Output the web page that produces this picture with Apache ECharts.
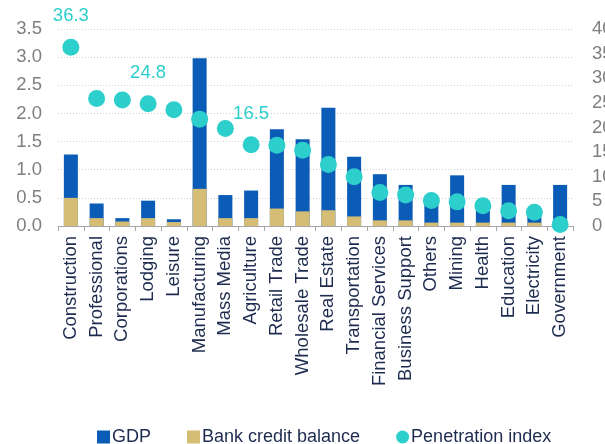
<!DOCTYPE html>
<html>
<head>
<meta charset="utf-8">
<script src="https://cdn.jsdelivr.net/npm/echarts@6/dist/echarts.min.js"></script>
<style>
  html, body { margin: 0; padding: 0; background: #fff; }
  #chart { width: 605px; height: 444px; }
</style>
</head>
<body>
<div id="chart"></div>
<script>
// Sectors along the x axis
const sectors = ['Construction', 'Professional', 'Corporations', 'Lodging', 'Leisure',
  'Manufacturing', 'Mass Media', 'Agriculture', 'Retail Trade', 'Wholesale Trade',
  'Real Estate', 'Transportation', 'Financial Services', 'Business Support', 'Others',
  'Mining', 'Health', 'Education', 'Electricity', 'Government'];

// Share of GDP (left axis)
const gdp = [1.27, 0.40, 0.14, 0.45, 0.12, 2.98, 0.55, 0.63, 1.72, 1.54,
  2.10, 1.23, 0.92, 0.73, 0.50, 0.90, 0.40, 0.73, 0.25, 0.73];

// Share of bank credit balance (left axis)
const credit = [0.50, 0.14, 0.08, 0.14, 0.07, 0.66, 0.14, 0.14, 0.31, 0.26,
  0.28, 0.17, 0.10, 0.10, 0.06, 0.06, 0.06, 0.06, 0.06, 0.01];

// Penetration index (right axis)
const penetration = [36.3, 25.9, 25.6, 24.8, 23.6, 21.7, 19.8, 16.5, 16.4, 15.4,
  12.5, 10.0, 6.8, 6.3, 5.2, 4.9, 4.1, 3.1, 2.8, 0.3];

// Sectors whose penetration value is printed above the dot
const labelledSectors = ['Construction', 'Lodging', 'Agriculture'];

const leftTicks = { min: 0, max: 3.5, interval: 0.5 };
const rightTicks = { min: 0, max: 40, interval: 5 };

const chart = echarts.init(document.getElementById('chart'), null, { renderer: 'canvas' });

const font = 'Liberation Sans, Arial, sans-serif';

chart.setOption({
  animation: false,
  textStyle: { fontFamily: font },
  grid: {
    left: 58, right: 32, top: 29, bottom: 218,
    containLabel: false,
    outerBoundsMode: 'none'
  },
  legend: {
    top: 423,
    left: 92,
    itemGap: 36,
    itemWidth: 13,
    itemHeight: 13,
    textStyle: { color: '#1d2b4f', fontSize: 18, fontFamily: font, padding: [0, 0, 0, -3] },
    data: [
      { name: 'GDP', icon: 'rect' },
      { name: 'Bank credit balance', icon: 'rect' },
      { name: 'Penetration index', icon: 'circle' }
    ]
  },
  xAxis: {
    type: 'category',
    data: sectors,
    axisLine: { lineStyle: { color: '#a6a6a6', width: 1 } },
    axisTick: { show: true, length: 5, lineStyle: { color: '#a6a6a6' } },
    axisLabel: {
      rotate: 90,
      interval: 0,
      margin: 10,
      color: '#1d2b4f',
      fontSize: 18.5,
      fontFamily: font
    }
  },
  yAxis: [
    {
      type: 'value',
      min: leftTicks.min, max: leftTicks.max, interval: leftTicks.interval,
      axisLine: { show: false },
      axisTick: { show: false },
      axisLabel: {
        color: '#7f7f7f', fontSize: 18.5, fontFamily: font, margin: 16,
        formatter: v => v.toFixed(1)
      },
      splitLine: { show: true, lineStyle: { color: '#d0d0d0', type: [1, 2], width: 1 } }
    },
    {
      type: 'value',
      min: rightTicks.min, max: rightTicks.max, interval: rightTicks.interval,
      axisLine: { show: false },
      axisTick: { show: false },
      axisLabel: { color: '#7f7f7f', fontSize: 18.5, fontFamily: font, margin: 19 },
      splitLine: { show: false }
    }
  ],
  series: [
    {
      name: 'GDP',
      type: 'bar',
      data: gdp,
      barWidth: 14,
      barGap: '-100%',
      itemStyle: { color: '#0b5cb6' },
      z: 2
    },
    {
      name: 'Bank credit balance',
      type: 'bar',
      data: credit,
      barWidth: 14,
      barGap: '-100%',
      itemStyle: { color: '#d6bd76' },
      z: 3
    },
    {
      name: 'Penetration index',
      type: 'scatter',
      yAxisIndex: 1,
      data: penetration.map((v, i) => ({
        value: v,
        label: { show: labelledSectors.includes(sectors[i]) }
      })),
      symbolSize: 17,
      itemStyle: { color: '#2dcfcc', opacity: 1 },
      label: {
        show: false,
        position: 'top',
        distance: 13,
        color: '#2dcfcc',
        fontSize: 18.5,
        fontFamily: font,
        formatter: p => p.value.toFixed(1)
      },
      z: 5
    }
  ]
});
</script>
</body>
</html>
